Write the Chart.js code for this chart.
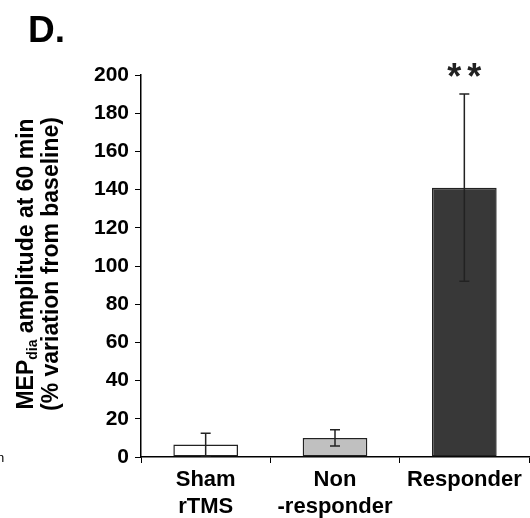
<!DOCTYPE html>
<html>
<head>
<meta charset="utf-8">
<script src="https://cdn.jsdelivr.net/npm/chart.js@4.4.0/dist/chart.umd.min.js"></script>
<style>
  html, body { margin: 0; padding: 0; background: #fff; }
  #wrap { width: 530px; height: 518px; }
</style>
</head>
<body>
<div id="wrap"><canvas id="myChart" width="530" height="518"></canvas></div>
<script>
var categories = [["Sham", "rTMS"], ["Non", "-responder"], ["Responder"]];
var means = [6.5, 10, 141];
var errors = [6, 4.3, 49];
var yTicks = [0, 20, 40, 60, 80, 100, 120, 140, 160, 180, 200];
var barColors = ["#ffffff", "#c0c0c0", "#383838"];

var FONT = "'Liberation Sans', Arial, sans-serif";

var errorBars = {
    id: "errorBars",
    afterDatasetsDraw: function (chart) {
        var ctx = chart.ctx;
        var meta = chart.getDatasetMeta(0);
        var y = chart.scales.y;
        ctx.save();
        ctx.strokeStyle = "#222";
        ctx.lineWidth = 1.5;
        meta.data.forEach(function (bar, i) {
            var x = bar.x;
            var top = y.getPixelForValue(means[i] + errors[i]);
            var bot = y.getPixelForValue(Math.max(means[i] - errors[i], 0));
            ctx.beginPath();
            ctx.moveTo(x, top); ctx.lineTo(x, bot);
            ctx.moveTo(x - 5, top); ctx.lineTo(x + 5, top);
            if (means[i] - errors[i] > 0) {
                ctx.moveTo(x - 5, bot); ctx.lineTo(x + 5, bot);
            }
            ctx.stroke();
        });
        ctx.restore();
    },
    afterDraw: function (chart) {
        var ctx = chart.ctx;
        var meta = chart.getDatasetMeta(0);
        ctx.save();
        ctx.fillStyle = "#000";
        // panel letter
        ctx.font = "bold 37px " + FONT;
        ctx.textAlign = "left";
        ctx.textBaseline = "alphabetic";
        ctx.fillText("D.", 28, 42);
        // bit of the neighbouring panel, cut off at the edge
        ctx.font = "13px " + FONT;
        ctx.fillText("n", -3, 462);
        // significance
        ctx.font = "bold 36px " + FONT;
        ctx.textAlign = "center";
        ctx.fillStyle = "#222";
        var sx = meta.data[2].x;
        ctx.fillText("*", sx - 10, 89);
        ctx.fillText("*", sx + 10, 89);
        // y axis title, two lines rotated
        ctx.fillStyle = "#000";
        ctx.save();
        ctx.translate(33, 264);
        ctx.rotate(-Math.PI / 2);
        ctx.textAlign = "left";
        ctx.textBaseline = "alphabetic";
        var big = "bold 23px " + FONT, small = "bold 14px " + FONT;
        ctx.font = big;
        var w1 = ctx.measureText("MEP").width;
        ctx.font = small;
        var w2 = ctx.measureText("dia").width;
        ctx.font = big;
        var w3 = ctx.measureText(" amplitude at 60 min").width;
        var x0 = -(w1 + w2 + w3) / 2;
        ctx.fillText("MEP", x0, 0);
        ctx.font = small;
        ctx.fillText("dia", x0 + w1, 4);
        ctx.font = big;
        ctx.fillText(" amplitude at 60 min", x0 + w1 + w2, 0);
        ctx.textAlign = "center";
        ctx.fillText("(% variation from baseline)", 0, 25);
        ctx.restore();
        ctx.restore();
    }
};

new Chart(document.getElementById("myChart"), {
    type: "bar",
    data: {
        labels: categories,
        datasets: [{
            data: means,
            backgroundColor: barColors,
            borderColor: "#222",
            borderWidth: 1.5,
            borderSkipped: false,
            barPercentage: 0.5,
            categoryPercentage: 1.0
        }]
    },
    options: {
        responsive: false,
        animation: false,
        layout: { padding: { top: 75, right: 1, left: 0, bottom: 0 } },
        plugins: {
            legend: { display: false },
            tooltip: { enabled: false }
        },
        scales: {
            x: {
                grid: { display: true, drawOnChartArea: false, color: "#000", tickLength: 6, offset: true },
                border: { color: "#000", width: 1.5 },
                ticks: { color: "#000", font: { family: FONT, size: 22, weight: "bold" }, padding: 4, maxRotation: 0, autoSkip: false },
                afterFit: function (s) { s.height = 61; }
            },
            y: {
                min: 0,
                max: 200,
                afterBuildTicks: function (s) { s.ticks = yTicks.map(function (v) { return { value: v }; }); },
                grid: { display: true, drawOnChartArea: false, color: "#000", tickLength: 6 },
                border: { color: "#000", width: 1.5 },
                ticks: { color: "#000", font: { family: FONT, size: 21, weight: "bold" }, padding: 6 },
                afterFit: function (s) { s.width = 141; }
            }
        }
    },
    plugins: [errorBars]
});
</script>
</body>
</html>
